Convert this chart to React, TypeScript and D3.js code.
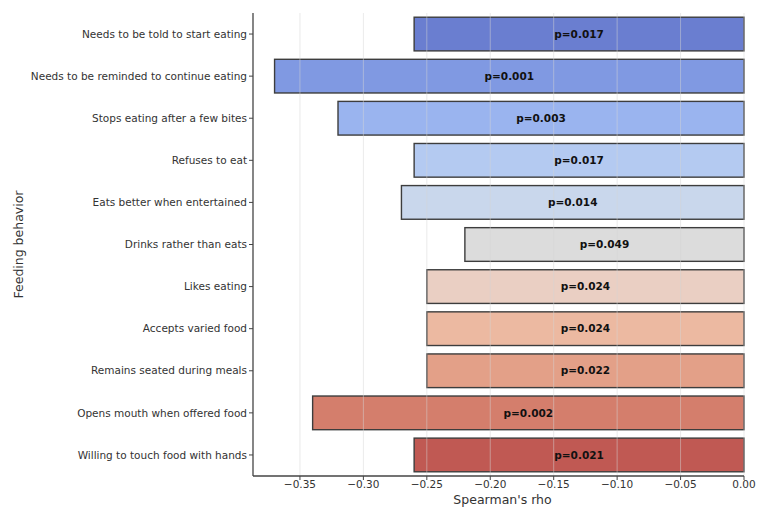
import React from "react";
import * as d3 from "d3";

const behaviors = [
  "Needs to be told to start eating",
  "Needs to be reminded to continue eating",
  "Stops eating after a few bites",
  "Refuses to eat",
  "Eats better when entertained",
  "Drinks rather than eats",
  "Likes eating",
  "Accepts varied food",
  "Remains seated during meals",
  "Opens mouth when offered food",
  "Willing to touch food with hands",
];

const rho = [-0.26, -0.37, -0.32, -0.26, -0.27, -0.22, -0.25, -0.25, -0.25, -0.34, -0.26];

const pValues = ["0.017", "0.001", "0.003", "0.017", "0.014", "0.049", "0.024", "0.024", "0.022", "0.002", "0.021"];

const xTicks = [-0.35, -0.3, -0.25, -0.2, -0.15, -0.1, -0.05, 0.0];

// coolwarm-style palette, one colour per row
const palette = [
  "#6a7ed0",
  "#8099e2",
  "#9ab4ef",
  "#b4caf1",
  "#c9d7ec",
  "#dcdcdc",
  "#eacfc3",
  "#ecb9a1",
  "#e3a088",
  "#d47e6c",
  "#c05953",
];

const W = 757;
const H = 511;
const left = 253;
const right = 744;
const top = 13;
const bottom = 476;
const font = "DejaVu Sans, sans-serif";

export default function App() {
  const x = d3.scaleLinear().domain([-0.387, 0]).range([left, right]);
  const y = d3
    .scaleBand<string>()
    .domain(behaviors)
    .range([top, bottom])
    .paddingInner(0.2)
    .paddingOuter(0.1);
  const fmt = (v: number) => v.toFixed(2).replace("-", "\u2212");

  return (
    <svg
      width={W}
      height={H}
      style={{ position: "absolute", left: 0, top: 0, background: "#fff" }}
      fontFamily={font}
    >
      {behaviors.map((b, i) => {
        const x0 = x(rho[i]);
        const x1 = x(0);
        const yy = y(b)!;
        return (
          <rect
            key={b}
            x={x0}
            y={yy}
            width={x1 - x0}
            height={y.bandwidth()}
            fill={palette[i]}
            stroke="#3d3d3d"
            strokeWidth={1.4}
          />
        );
      })}
      {/* vertical grid */}
      {xTicks.map((t) => (
        <line
          key={"g" + t}
          x1={x(t)}
          x2={x(t)}
          y1={top}
          y2={bottom}
          stroke="#d4d4d4"
          strokeOpacity={0.55}
          strokeWidth={0.9}
        />
      ))}
      {behaviors.map((b, i) => (
        <text
          key={"p" + b}
          x={x(rho[i] / 2)}
          y={y(b)! + y.bandwidth() / 2}
          dy="0.35em"
          textAnchor="middle"
          fontSize={10.5}
          fontWeight="bold"
          fill="#111"
        >
          p={pValues[i]}
        </text>
      ))}
      {/* spines */}
      <line x1={left} x2={left} y1={top} y2={bottom} stroke="#444" strokeWidth={1.3} />
      <line x1={left} x2={right} y1={bottom} y2={bottom} stroke="#444" strokeWidth={1.3} />
      {/* y ticks */}
      {behaviors.map((b) => {
        const cy = y(b)! + y.bandwidth() / 2;
        return (
          <g key={"yt" + b}>
            <line x1={left - 4} x2={left} y1={cy} y2={cy} stroke="#444" strokeWidth={1} />
            <text x={left - 6} y={cy} dy="0.35em" textAnchor="end" fontSize={10.5} fill="#333">
              {b}
            </text>
          </g>
        );
      })}
      {/* x ticks */}
      {xTicks.map((t) => (
        <g key={"xt" + t}>
          <line x1={x(t)} x2={x(t)} y1={bottom} y2={bottom + 4} stroke="#444" strokeWidth={1} />
          <text x={x(t)} y={488} textAnchor="middle" fontSize={10.5} fill="#333">
            {fmt(t)}
          </text>
        </g>
      ))}
      <text x={(left + right) / 2 + 4} y={504} textAnchor="middle" fontSize={12.5} fill="#333">
        Spearman's rho
      </text>
      <text
        transform={`translate(23, ${(top + bottom) / 2}) rotate(-90)`}
        textAnchor="middle"
        fontSize={12.5}
        fill="#333"
      >
        Feeding behavior
      </text>
    </svg>
  );
}
